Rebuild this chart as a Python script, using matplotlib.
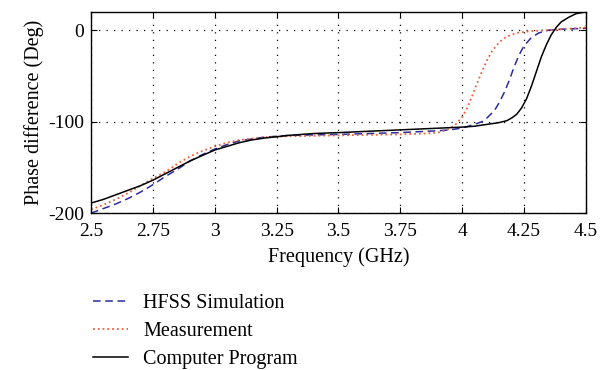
import matplotlib
matplotlib.use("Agg")
from matplotlib import pyplot as plt
import numpy as np

plt.rcParams['font.family'] = ['Liberation Serif', 'DejaVu Serif']
plt.rcParams['font.size'] = 14
plt.rcParams['axes.unicode_minus'] = False

# computer program (black solid)
f_cp = [2.5, 2.55, 2.6, 2.65, 2.7, 2.75, 2.8, 2.85, 2.9, 2.95, 3.0, 3.05, 3.1,
        3.15, 3.2, 3.3, 3.4, 3.5, 3.75, 4.0, 4.05, 4.1, 4.15, 4.18, 4.2, 4.22,
        4.24, 4.26, 4.28, 4.3, 4.32, 4.34, 4.36, 4.38, 4.4, 4.43, 4.46, 4.5]
p_cp = [-189, -185, -180, -175, -170, -164, -157, -150, -143, -137, -131, -127,
        -123, -120, -118, -115, -113, -112, -109, -106, -105, -103, -101, -99,
        -96, -92, -85, -75, -61, -45, -29, -16, -5, 3, 9, 14, 18, 20]

# HFSS simulation (blue dashed)
f_hfss = [2.5, 2.55, 2.6, 2.65, 2.7, 2.75, 2.8, 2.85, 2.9, 2.95, 3.0, 3.05, 3.1,
          3.2, 3.3, 3.5, 3.75, 3.9, 3.95, 4.0, 4.05, 4.08, 4.1, 4.13, 4.15,
          4.17, 4.19, 4.21, 4.23, 4.25, 4.28, 4.31, 4.35, 4.4, 4.5]
p_hfss = [-200, -195, -190, -184, -177, -169, -160, -152, -143, -136, -130,
          -125, -121, -117, -115, -114, -112, -110, -109, -107, -103, -100, -96,
          -88, -79, -68, -55, -40, -27, -17, -8, -3, 0, 1, 2]

# measurement (red dotted)
f_meas = [2.5, 2.55, 2.6, 2.65, 2.7, 2.75, 2.8, 2.85, 2.9, 2.95, 3.0, 3.05, 3.1,
          3.2, 3.3, 3.5, 3.75, 3.85, 3.9, 3.94, 3.97, 4.0, 4.02, 4.04, 4.06,
          4.08, 4.1, 4.12, 4.15, 4.18, 4.22, 4.28, 4.35, 4.45, 4.5]
p_meas = [-196, -191, -185, -178, -170, -162, -155, -146, -138, -132, -127,
          -123, -120, -117, -116, -115, -114, -113, -112, -109, -104, -95, -85,
          -72, -58, -45, -33, -23, -13, -7, -3, -1, 0, 2, 3]

xticks = [2.5, 2.75, 3, 3.25, 3.5, 3.75, 4, 4.25, 4.5]
xlabels = ['2.5', '2.75', '3', '3.25', '3.5', '3.75', '4', '4.25', '4.5']

fig = plt.figure(figsize=(6.11, 3.70), dpi=100)
ax = fig.add_axes([0.149, 0.424, 0.810, 0.544])

ax.plot(f_hfss, p_hfss, '--', color='#2b2b9b', lw=1.1, dashes=(5, 3), label='HFSS Simulation')
ax.plot(f_meas, p_meas, ':', color='#f0603a', lw=1.3, label='Measurement')
ax.plot(f_cp, p_cp, '-', color='black', lw=1.1, label='Computer Program')

ax.set_xlim(2.5, 4.5)
ax.set_ylim(-200, 20)
ax.set_xticks(xticks)
ax.set_xticklabels(xlabels)
ax.set_yticks([-200, -100, 0])
ax.tick_params(direction='in', length=4, top=True, right=True, pad=5)
ax.tick_params(axis='x', pad=7)
ax.grid(True, color='black', linestyle=(0, (1, 5)), lw=0.9)
for s in ax.spines.values():
    s.set_linewidth(1.0)

ax.set_xlabel('Frequency (GHz)', labelpad=5, fontsize=14.5)
ax.set_ylabel('Phase difference (Deg)', labelpad=3, fontsize=14.5)

fig.legend(loc='upper left', bbox_to_anchor=(0.122, 0.255), frameon=False,
           handlelength=1.75, labelspacing=0.45, handletextpad=0.75, fontsize=14.5)

fig.savefig('out.png', dpi=100)
